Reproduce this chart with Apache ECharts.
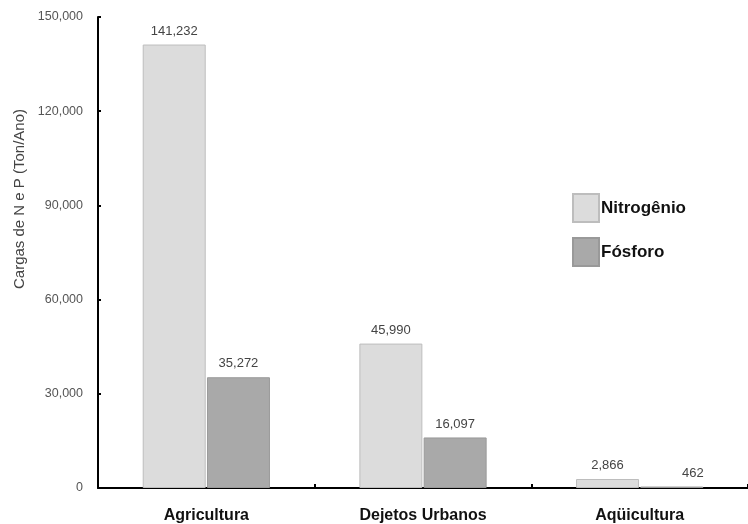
<!DOCTYPE html>
<html>
<head>
<meta charset="utf-8">
<script src="https://cdn.jsdelivr.net/npm/echarts@6/dist/echarts.min.js"></script>
<style>
  html, body { margin: 0; padding: 0; background: #fff; }
  #chart { width: 748px; height: 524px; }
</style>
</head>
<body>
<div id="chart"></div>
<script>
// Nutrient loads by source (Ton/Ano)
const categories = ['Agricultura', 'Dejetos Urbanos', 'Aqüicultura'];
const nitrogenio = [141232, 45990, 2866];
const fosforo = [35272, 16097, 462];
const seriesNames = ['Nitrogênio', 'Fósforo'];
const yTicks = { min: 0, max: 150000, interval: 30000 };

const fmt = v => v.toLocaleString('en-US');
const FONT = '"Liberation Sans", Arial, sans-serif';

const chart = echarts.init(document.getElementById('chart'), null, { renderer: 'canvas' });

const labelCfg = {
  show: true,
  position: 'top',
  distance: 7,
  color: '#444',
  fontSize: 13,
  fontFamily: FONT,
  formatter: p => fmt(p.value)
};

// the smallest phosphorus value sits beside its (nearly flat) bar
const fosforoData = fosforo.map(v =>
  v < 1000 ? { value: v, label: { offset: [21, 0] } } : v
);

chart.setOption({
  animation: false,
  backgroundColor: '#fff',
  grid: { left: 98, top: 17, width: 656, height: 472 },
  legend: {
    orient: 'vertical',
    left: 567,
    top: 188,
    itemWidth: 26,
    itemHeight: 28,
    itemGap: 14,
    icon: 'rect',
    data: seriesNames,
    textStyle: { fontFamily: FONT, fontSize: 17, fontWeight: 'bold', color: '#111', padding: [0, 0, 0, -3] }
  },
  xAxis: {
    type: 'category',
    data: categories,
    axisLine: { lineStyle: { color: '#000', width: 2 } },
    axisTick: { show: true, inside: true, length: 4, lineStyle: { color: '#000', width: 2 } },
    axisLabel: { color: '#111', fontFamily: FONT, fontSize: 16, fontWeight: 'bold', margin: 20 },
    splitLine: { show: false }
  },
  yAxis: {
    type: 'value',
    min: yTicks.min,
    max: yTicks.max,
    interval: yTicks.interval,
    axisLine: { show: true, lineStyle: { color: '#000', width: 2 } },
    axisTick: { show: true, inside: true, length: 3, lineStyle: { color: '#000', width: 2 } },
    axisLabel: { color: '#555', fontFamily: FONT, fontSize: 12.5, margin: 15, formatter: v => fmt(v) },
    splitLine: { show: false }
  },
  graphic: [{
    type: 'text',
    x: 20,
    y: 199,
    rotation: Math.PI / 2,
    style: {
      text: 'Cargas de N e P (Ton/Ano)',
      fill: '#444',
      font: '15px ' + FONT,
      align: 'center',
      verticalAlign: 'middle'
    }
  }],
  series: [
    {
      name: seriesNames[0],
      type: 'bar',
      data: nitrogenio,
      barWidth: 63,
      barGap: '2%',
      itemStyle: { color: '#dcdcdc', borderColor: '#bdbdbd', borderWidth: 1 },
      label: labelCfg
    },
    {
      name: seriesNames[1],
      type: 'bar',
      data: fosforoData,
      barWidth: 63,
      itemStyle: { color: '#a9a9a9', borderColor: '#999', borderWidth: 1 },
      label: labelCfg
    }
  ]
});
</script>
</body>
</html>
